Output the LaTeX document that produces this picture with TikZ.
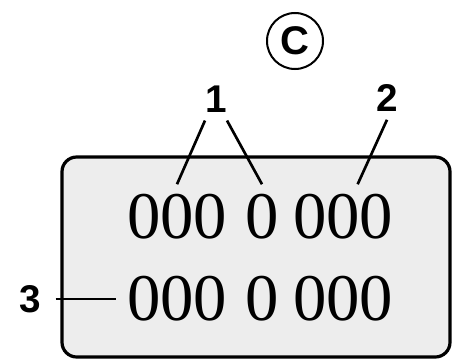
\documentclass[tikz,border=0pt]{standalone}
\usepackage{fontspec}
\setmainfont{Liberation Serif}
\newfontfamily\callfont{Liberation Sans}

\begin{document}
\begin{tikzpicture}[x=0.75pt,y=-0.75pt,
  calllbl/.style={font=\callfont\bfseries\fontsize{29}{29}\selectfont,inner xsep=0pt,inner ysep=6pt},
  digrp/.style={font=\fontsize{50}{50}\selectfont,inner xsep=8pt,inner ysep=7.5pt},
  leader/.style={line width=2pt}]
\useasboundingbox (0,0) rectangle (454,360);
\draw[line width=2.4pt,fill=black!7,rounded corners=11pt] (62,157) rectangle (450,357);
\node[circle,draw,line width=1.5pt,minimum size=42pt,inner sep=0pt,
   font=\callfont\bfseries\fontsize{30}{30}\selectfont] (view) at (295,41) {C};
\foreach \r/\y in {1/217,2/299} {
   \node[digrp] (lft\r) at (177,\y) {000};
   \node[digrp] (mid\r) at (262,\y) {0};
   \node[digrp] (rgt\r) at (343,\y) {000};
}
\node[calllbl] (n1) at (216,99) {1};
\node[calllbl] (n2) at (387,98) {2};
\node[calllbl,inner xsep=11pt] (n3) at (30,299) {3};
\draw[leader] (n1.south west) -- (lft1.north);
\draw[leader] (n1.south east) -- (mid1.north);
\draw[leader] (n2.south) -- ([xshift=11pt]rgt1.north);
\draw[leader] (n3) -- (lft2);
\end{tikzpicture}
\end{document}
